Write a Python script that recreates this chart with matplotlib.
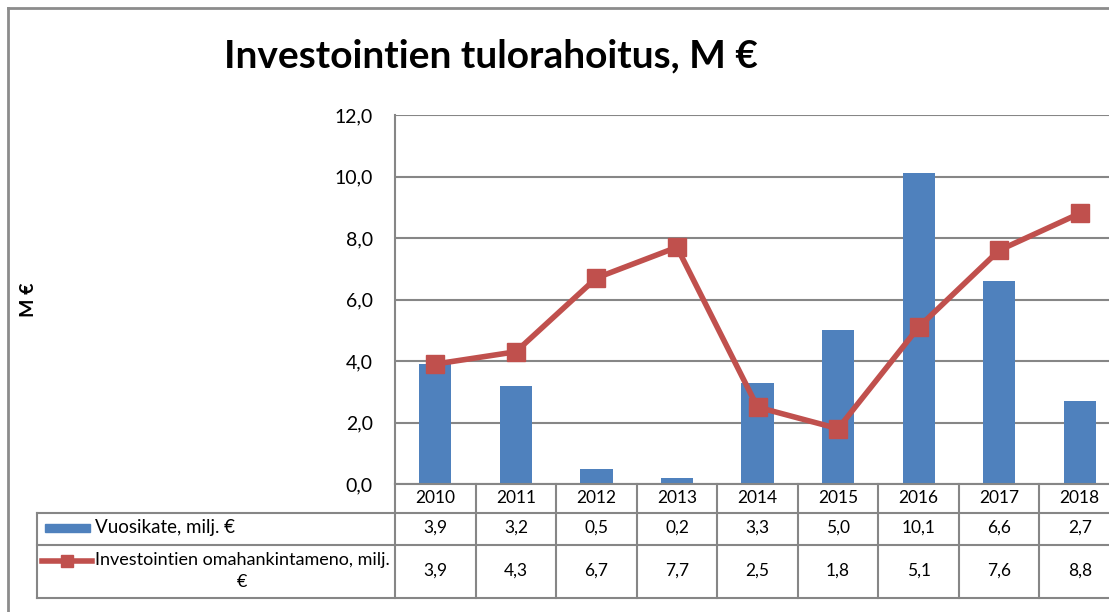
import matplotlib
matplotlib.use("Agg")
import matplotlib.pyplot as plt
from matplotlib.lines import Line2D
from matplotlib.patches import Rectangle
import matplotlib.transforms as mtransforms

years = ["2010", "2011", "2012", "2013", "2014", "2015", "2016", "2017", "2018"]
vuosikate = [3.9, 3.2, 0.5, 0.2, 3.3, 5.0, 10.1, 6.6, 2.7]
omahankinta = [3.9, 4.3, 6.7, 7.7, 2.5, 1.8, 5.1, 7.6, 8.8]
series_names = ["Vuosikate, milj. €", "Investointien omahankintameno, milj.\n€"]
yticks = [0, 2, 4, 6, 8, 10, 12]
title = "Investointien tulorahoitus, M €"
ylabel = "M €"

BLUE = "#4F81BD"
RED = "#C0504D"
GRID = "#868686"

plt.rcParams['font.family'] = ['Lato', 'DejaVu Sans']

W, H = 1109, 612
fig = plt.figure(figsize=(W / 100, H / 100), dpi=100)

def fx(px):
    return px / W

def fy(py):
    return 1 - py / H

ax_left, ax_right, ax_top, ax_bot = 395, 1120, 115, 484
ax = fig.add_axes([fx(ax_left), fy(ax_bot), (ax_right - ax_left) / W, (ax_bot - ax_top) / H])

x = list(range(len(years)))
ax.bar(x, vuosikate, width=0.4, color=BLUE, zorder=2)
ax.plot(x, omahankinta, color=RED, lw=4, marker='s', ms=13, zorder=3, clip_on=False)

ax.set_xlim(-0.5, len(years) - 0.5)
ax.set_ylim(0, 12)
ax.set_yticks(yticks)
ax.set_yticklabels([f"{v:.1f}".replace('.', ',') for v in yticks], fontsize=14)
ax.set_xticks([])
ax.tick_params(axis='y', length=0, pad=16)
for v in yticks:
    ax.axhline(v, color=GRID, lw=1.5, zorder=1)
for s in ['top', 'right', 'bottom']:
    ax.spines[s].set_visible(False)
ax.spines['left'].set_color(GRID)
ax.spines['left'].set_linewidth(1.5)

# Data table (x in data coords, y in axes fraction)
tr = mtransforms.blended_transform_factory(ax.transData, ax.transAxes)
hpx = ax_bot - ax_top
def ay(py):
    return (ax_bot - py) / hpx

cat_w = (ax_right - ax_left) / len(years)
left_x = -0.5 - (ax_left - 37) / cat_w
y_hdr, y_r1, y_r2, y_bot = ay(484), ay(513), ay(545), ay(598)

def hline(x0, x1, y):
    ax.add_line(Line2D([x0, x1], [y, y], transform=tr, color=GRID, lw=1.5, clip_on=False))

def vline(xv, y0, y1):
    ax.add_line(Line2D([xv, xv], [y0, y1], transform=tr, color=GRID, lw=1.5, clip_on=False))

hline(-0.5, len(years) - 0.5, y_hdr)
hline(left_x, len(years) - 0.5, y_r1)
hline(left_x, len(years) - 0.5, y_r2)
hline(left_x, len(years) - 0.5, y_bot)
vline(left_x, y_r1, y_bot)
for i in range(len(years) + 1):
    vline(i - 0.5, y_hdr, y_bot)

TFS = 12.5
fmt = lambda v: f"{v:.1f}".replace('.', ',')
for i, yr in enumerate(years):
    ax.text(i, ay(498), yr, transform=tr, ha='center', va='center', fontsize=TFS, clip_on=False)
    ax.text(i, ay(528), fmt(vuosikate[i]), transform=tr, ha='center', va='center', fontsize=TFS, clip_on=False)
    ax.text(i, ay(571), fmt(omahankinta[i]), transform=tr, ha='center', va='center', fontsize=TFS, clip_on=False)

# legend keys in table
px2x = lambda px: -0.5 - (ax_left - px) / cat_w
ax.add_patch(Rectangle((px2x(45), ay(532)), (90 - 45) / cat_w, ay(524) - ay(532),
                       transform=tr, color=BLUE, clip_on=False))
ax.text(px2x(95), ay(528), series_names[0], transform=tr, ha='left', va='center', fontsize=13.5, clip_on=False)
ax.add_line(Line2D([px2x(42), px2x(92)], [ay(561), ay(561)], transform=tr, color=RED, lw=4, clip_on=False))
ax.add_line(Line2D([px2x(67)], [ay(561)], transform=tr, color=RED, marker='s', ms=9, clip_on=False))
ax.text(px2x(242), ay(571), series_names[1], transform=tr, ha='center', va='center',
        fontsize=13, linespacing=1.45, multialignment='center', clip_on=False)

# title and y label
fig.text(fx(491), fy(56), title, ha='center', va='center', fontsize=28, fontweight='bold')
fig.text(fx(28), fy(300), ylabel, ha='center', va='center', fontsize=14, fontweight='bold', rotation=90)

# outer frame
fig.add_artist(Line2D([fx(8), fx(8)], [fy(8), 0], color="#8C8C8C", lw=2))
fig.add_artist(Line2D([fx(8), 1], [fy(8), fy(8)], color="#8C8C8C", lw=2))

fig.savefig("out.png", dpi=100)
